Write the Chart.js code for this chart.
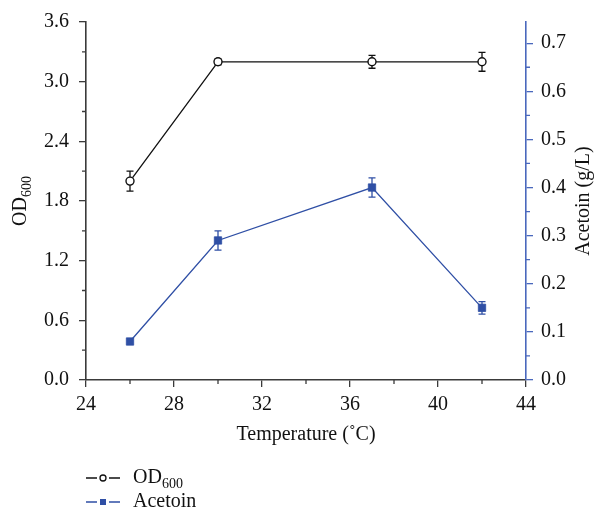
<!DOCTYPE html>
<html>
<head>
<meta charset="utf-8">
<script src="https://cdn.jsdelivr.net/npm/chart.js@4.4.1/dist/chart.umd.min.js"></script>
<style>
html,body{margin:0;padding:0;background:#fff;}
#wrap{width:594px;height:512px;position:relative;}
</style>
</head>
<body>
<div id="wrap"><canvas id="c" width="594" height="512"></canvas></div>
<script>
const temperatures = [26, 30, 37, 42];
const od600 = [2.0, 3.2, 3.2, 3.2];
const od600Err = [0.1, 0.03, 0.065, 0.095];
const acetoin = [0.08, 0.29, 0.40, 0.15];
const acetoinErr = [0.0, 0.02, 0.02, 0.013];
const xTicks = [24, 28, 32, 36, 40, 44];
const yLeftTicks = [0.0, 0.6, 1.2, 1.8, 2.4, 3.0, 3.6];
const yRightTicks = [0.0, 0.1, 0.2, 0.3, 0.4, 0.5, 0.6, 0.7];

const FONT = '"Liberation Serif", "DejaVu Serif", serif';
const FS = 20;
const BLACK = '#111111';
const AXIS = '#3a3a3a';
const BLUE = '#2f4fa5';
const BLUE_AXIS = '#4a68bd';

const errorBars = {
  id: 'errorBars',
  beforeDatasetsDraw(chart) {
    const ctx = chart.ctx;
    chart.data.datasets.forEach((ds, i) => {
      const ys = chart.scales[ds.yAxisID];
      const xs = chart.scales.x;
      ctx.save();
      ctx.strokeStyle = ds.borderColor;
      ctx.lineWidth = 1.3;
      ds.data.forEach((p, j) => {
        const e = ds.errors[j];
        if (!e) return;
        const x = xs.getPixelForValue(p.x);
        const y1 = ys.getPixelForValue(p.y - e);
        const y2 = ys.getPixelForValue(p.y + e);
        ctx.beginPath();
        ctx.moveTo(x, y1); ctx.lineTo(x, y2);
        ctx.moveTo(x - 3.5, y1); ctx.lineTo(x + 3.5, y1);
        ctx.moveTo(x - 3.5, y2); ctx.lineTo(x + 3.5, y2);
        ctx.stroke();
      });
      ctx.restore();
    });
  }
};

function drawSubText(ctx, main, sub, x, y, align, size) {
  const subSize = Math.round(size * 0.72);
  ctx.font = size + 'px ' + FONT;
  const wMain = ctx.measureText(main).width;
  ctx.font = subSize + 'px ' + FONT;
  const wSub = ctx.measureText(sub).width;
  const total = wMain + wSub;
  let sx = align === 'center' ? x - total / 2 : x;
  ctx.textAlign = 'left';
  ctx.textBaseline = 'middle';
  ctx.font = size + 'px ' + FONT;
  ctx.fillText(main, sx, y);
  ctx.font = subSize + 'px ' + FONT;
  ctx.fillText(sub, sx + wMain, y + size * 0.3);
}

const decorations = {
  id: 'decorations',
  afterDraw(chart) {
    const ctx = chart.ctx;
    const ca = chart.chartArea;
    const xs = chart.scales.x, yl = chart.scales.y, yr = chart.scales.y2;
    ctx.save();
    // minor ticks
    ctx.lineWidth = 1.3;
    ctx.strokeStyle = AXIS;
    ctx.beginPath();
    for (let i = 0; i < xTicks.length - 1; i++) {
      const v = (xTicks[i] + xTicks[i + 1]) / 2;
      const px = xs.getPixelForValue(v);
      ctx.moveTo(px, ca.bottom); ctx.lineTo(px, ca.bottom + 4);
    }
    for (let i = 0; i < yLeftTicks.length - 1; i++) {
      const v = (yLeftTicks[i] + yLeftTicks[i + 1]) / 2;
      const py = yl.getPixelForValue(v);
      ctx.moveTo(ca.left, py); ctx.lineTo(ca.left - 4, py);
    }
    ctx.stroke();
    ctx.strokeStyle = BLUE_AXIS;
    ctx.beginPath();
    for (let i = 0; i < yRightTicks.length; i++) {
      const v = yRightTicks[i] + 0.05;
      if (v > yr.max) continue;
      const py = yr.getPixelForValue(v);
      ctx.moveTo(ca.right, py); ctx.lineTo(ca.right + 4, py);
    }
    ctx.stroke();

    ctx.fillStyle = BLACK;
    // x title
    ctx.font = FS + 'px ' + FONT;
    ctx.textAlign = 'center';
    ctx.textBaseline = 'middle';
    ctx.fillText('Temperature (˚C)', (ca.left + ca.right) / 2, 435);
    // left title
    ctx.save();
    ctx.translate(21, (ca.top + ca.bottom) / 2);
    ctx.rotate(-Math.PI / 2);
    drawSubText(ctx, 'OD', '600', 0, 0, 'center', FS);
    ctx.restore();
    // right title
    ctx.save();
    ctx.translate(584, (ca.top + ca.bottom) / 2);
    ctx.rotate(-Math.PI / 2);
    ctx.font = FS + 'px ' + FONT;
    ctx.textAlign = 'center';
    ctx.textBaseline = 'middle';
    ctx.fillText('Acetoin (g/L)', 0, 0);
    ctx.restore();

    // legend
    const rows = [
      {y: 478, color: BLACK, style: 'circle', main: 'OD', sub: '600'},
      {y: 502, color: BLUE, style: 'rect', main: 'Acetoin', sub: ''}
    ];
    rows.forEach(r => {
      ctx.strokeStyle = r.color;
      ctx.lineWidth = 1.3;
      ctx.beginPath();
      ctx.moveTo(86, r.y); ctx.lineTo(97, r.y);
      ctx.moveTo(109, r.y); ctx.lineTo(120, r.y);
      ctx.stroke();
      if (r.style === 'circle') {
        ctx.beginPath();
        ctx.arc(103, r.y, 3, 0, Math.PI * 2);
        ctx.fillStyle = '#fff';
        ctx.fill();
        ctx.lineWidth = 1.3;
        ctx.stroke();
      } else {
        ctx.fillStyle = r.color;
        ctx.fillRect(100, r.y - 3, 6, 6);
      }
      ctx.fillStyle = BLACK;
      drawSubText(ctx, r.main, r.sub, 133, r.y, 'left', FS);
    });
    ctx.restore();
  }
};

const ctx = document.getElementById('c').getContext('2d');
new Chart(ctx, {
  type: 'line',
  data: {
    datasets: [
      {
        label: 'OD600',
        data: temperatures.map((t, i) => ({x: t, y: od600[i]})),
        errors: od600Err,
        yAxisID: 'y',
        borderColor: BLACK,
        backgroundColor: '#ffffff',
        borderWidth: 1.3,
        pointStyle: 'circle',
        pointRadius: 4,
        pointBorderWidth: 1.4,
        pointBackgroundColor: '#ffffff',
        pointBorderColor: BLACK,
        tension: 0
      },
      {
        label: 'Acetoin',
        data: temperatures.map((t, i) => ({x: t, y: acetoin[i]})),
        errors: acetoinErr,
        yAxisID: 'y2',
        borderColor: BLUE,
        backgroundColor: BLUE,
        borderWidth: 1.3,
        pointStyle: 'rect',
        pointRadius: 5.2,
        pointBorderWidth: 0.8,
        pointBackgroundColor: BLUE,
        pointBorderColor: BLUE,
        tension: 0
      }
    ]
  },
  options: {
    responsive: false,
    animation: false,
    devicePixelRatio: 1,
    layout: {padding: {top: 22, left: 0, right: 0, bottom: 0}},
    plugins: {legend: {display: false}, tooltip: {enabled: false}, title: {display: false}},
    scales: {
      x: {
        type: 'linear',
        min: 24, max: 44,
        afterFit(s) { s.height = 132; },
        afterBuildTicks(s) { s.ticks = xTicks.map(v => ({value: v})); },
        ticks: {
          color: BLACK,
          font: {family: FONT, size: FS},
          padding: 6,
          callback: v => String(v),
          maxRotation: 0
        },
        grid: {drawOnChartArea: false, tickLength: 7, color: AXIS, lineWidth: 1.3},
        border: {color: AXIS, width: 1.6}
      },
      y: {
        type: 'linear',
        position: 'left',
        min: 0, max: 3.6,
        afterFit(s) { s.width = 86; },
        afterBuildTicks(s) { s.ticks = yLeftTicks.map(v => ({value: v})); },
        ticks: {
          color: BLACK,
          font: {family: FONT, size: FS},
          padding: 10,
          callback: v => Number(v).toFixed(1)
        },
        grid: {drawOnChartArea: false, tickLength: 7, color: AXIS, lineWidth: 1.3},
        border: {color: AXIS, width: 1.6}
      },
      y2: {
        type: 'linear',
        position: 'right',
        min: 0, max: 0.744,
        afterFit(s) { s.width = 68; },
        afterBuildTicks(s) { s.ticks = yRightTicks.map(v => ({value: v})); },
        ticks: {
          color: BLACK,
          font: {family: FONT, size: FS},
          padding: 8,
          callback: v => Number(v).toFixed(1)
        },
        grid: {drawOnChartArea: false, tickLength: 7, color: BLUE_AXIS, lineWidth: 1.3},
        border: {color: BLUE_AXIS, width: 1.6}
      }
    }
  },
  plugins: [errorBars, decorations]
});
</script>
</body>
</html>
